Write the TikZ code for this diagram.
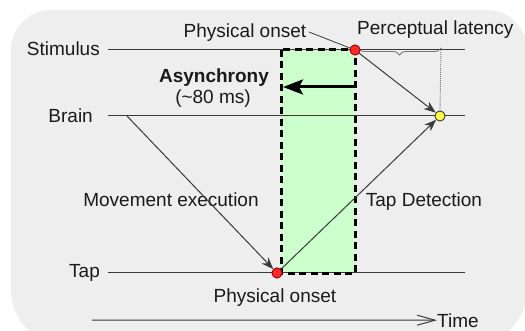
\documentclass[tikz,border=0pt]{standalone}
\usepackage{fontspec}
\setmainfont{Liberation Sans}
\usetikzlibrary{arrows.meta,decorations.pathreplacing}
\definecolor{bgc}{HTML}{EEEEEE}
\definecolor{lnc}{HTML}{3A3A3A}
\definecolor{grn}{HTML}{CCFFCC}
\definecolor{txt}{HTML}{1A1A1A}
\definecolor{rdot}{HTML}{FF2A2A}
\definecolor{rdotb}{HTML}{A00000}
\definecolor{ydot}{HTML}{FFFF40}
\definecolor{braceg}{HTML}{7A7A7A}
\begin{document}
\begin{tikzpicture}[x=1pt,y=-1pt,
  lbl/.style={font=\fontsize{19}{22}\selectfont, text=txt, inner sep=0pt},
  tline/.style={draw=lnc, line width=1pt},
  arr/.style={draw=lnc, line width=1pt, -{Stealth[length=12pt,width=9pt]}},
  dotn/.style={circle, inner sep=0pt, minimum size=10pt, line width=0.8pt},
  reddot/.style={dotn, fill=rdot, draw=rdotb},
  yeldot/.style={dotn, fill=ydot, draw=lnc},
  dashbox/.style={draw=black, line width=3pt, dash pattern=on 7pt off 4.5pt},
]
\clip (0,0) rectangle (525,331);
% background
\fill[bgc] (11,50) arc[start angle=180,end angle=270,radius=40] -- (487,10)
  arc[start angle=270,end angle=360,radius=40] -- (527,290)
  arc[start angle=0,end angle=90,radius=55] -- (66,345)
  arc[start angle=90,end angle=180,radius=55] -- cycle;
% green asynchrony box
\node[fill=grn, inner sep=0pt, minimum width=74pt, minimum height=223pt, anchor=north west] (asy) at (281,50) {};
% row labels
\node[lbl, anchor=base east] (stim) at (100,56) {Stimulus};
\node[lbl, anchor=base east] (brain) at (93,123) {Brain};
\node[lbl, anchor=base east] (tap) at (100,278) {Tap};
% row lines
\coordinate (s0) at (108,50);  \coordinate (s1) at (465,50);
\coordinate (b0) at (108,116); \coordinate (b1) at (465,116);
\coordinate (t0) at (108,273); \coordinate (t1) at (465,273);
\draw[tline] (s0) -- (s1);
\draw[tline] (b0) -- (b1);
\draw[tline] (t0) -- (t1);
% dashed border
\draw[dashbox] (asy.north west) rectangle (asy.south east);
% dots
\node[reddot] (sd) at (355,50) {};
\node[yeldot] (yd) at (440,116) {};
\node[reddot] (td) at (277,273) {};
% asynchrony arrow
\coordinate (a0) at (355,87);
\coordinate (a1) at (283,87);
\draw[line width=3pt, -{Stealth[length=20pt,width=15pt,inset=4pt]}] (a0) -- (a1);
% texts
\node[lbl, anchor=base] (pot) at (245,38) {Physical onset};
\node[lbl, anchor=base west] (plat) at (357,35) {Perceptual latency};
\node[lbl, anchor=base] (asyt) at (214,83) {\bfseries Asynchrony};
\node[lbl, anchor=base] (ms) at (213,104) {(\textasciitilde80 ms)};
\node[lbl, anchor=base] (mov) at (171,207) {Movement execution};
\node[lbl, anchor=base] (tdet) at (424,207) {Tap Detection};
\node[lbl, anchor=base] (pob) at (275,302) {Physical onset};
% leader line
\coordinate (lead) at (309,32);
\draw[line width=0.8pt, lnc] (lead) -- (sd.center);
% brace and dotted
\coordinate (br0) at (358,48);
\coordinate (br1) at (441,48);
\draw[braceg, line width=0.9pt, decorate, decoration={brace, mirror, amplitude=7pt}] (br0) -- (br1);
\draw[braceg, line width=0.9pt, dash pattern=on 1pt off 1pt] (br1) -- (yd.north);
% connectors
\coordinate (bs) at (127,116);
\draw[arr] (bs) -- (td);
\draw[arr] (td) -- (yd);
\draw[arr] (sd) -- (yd);
\node[reddot] at (sd) {};
\node[reddot] at (td) {};
\node[yeldot] at (yd) {};
% time axis
\coordinate (ta0) at (92,320);
\node[lbl, anchor=base west] (time) at (437,327) {Time};
\draw[lnc, line width=1pt, -{Straight Barb[length=18pt,width=10pt]}] (ta0) -- (time.west);
\end{tikzpicture}
\end{document}
